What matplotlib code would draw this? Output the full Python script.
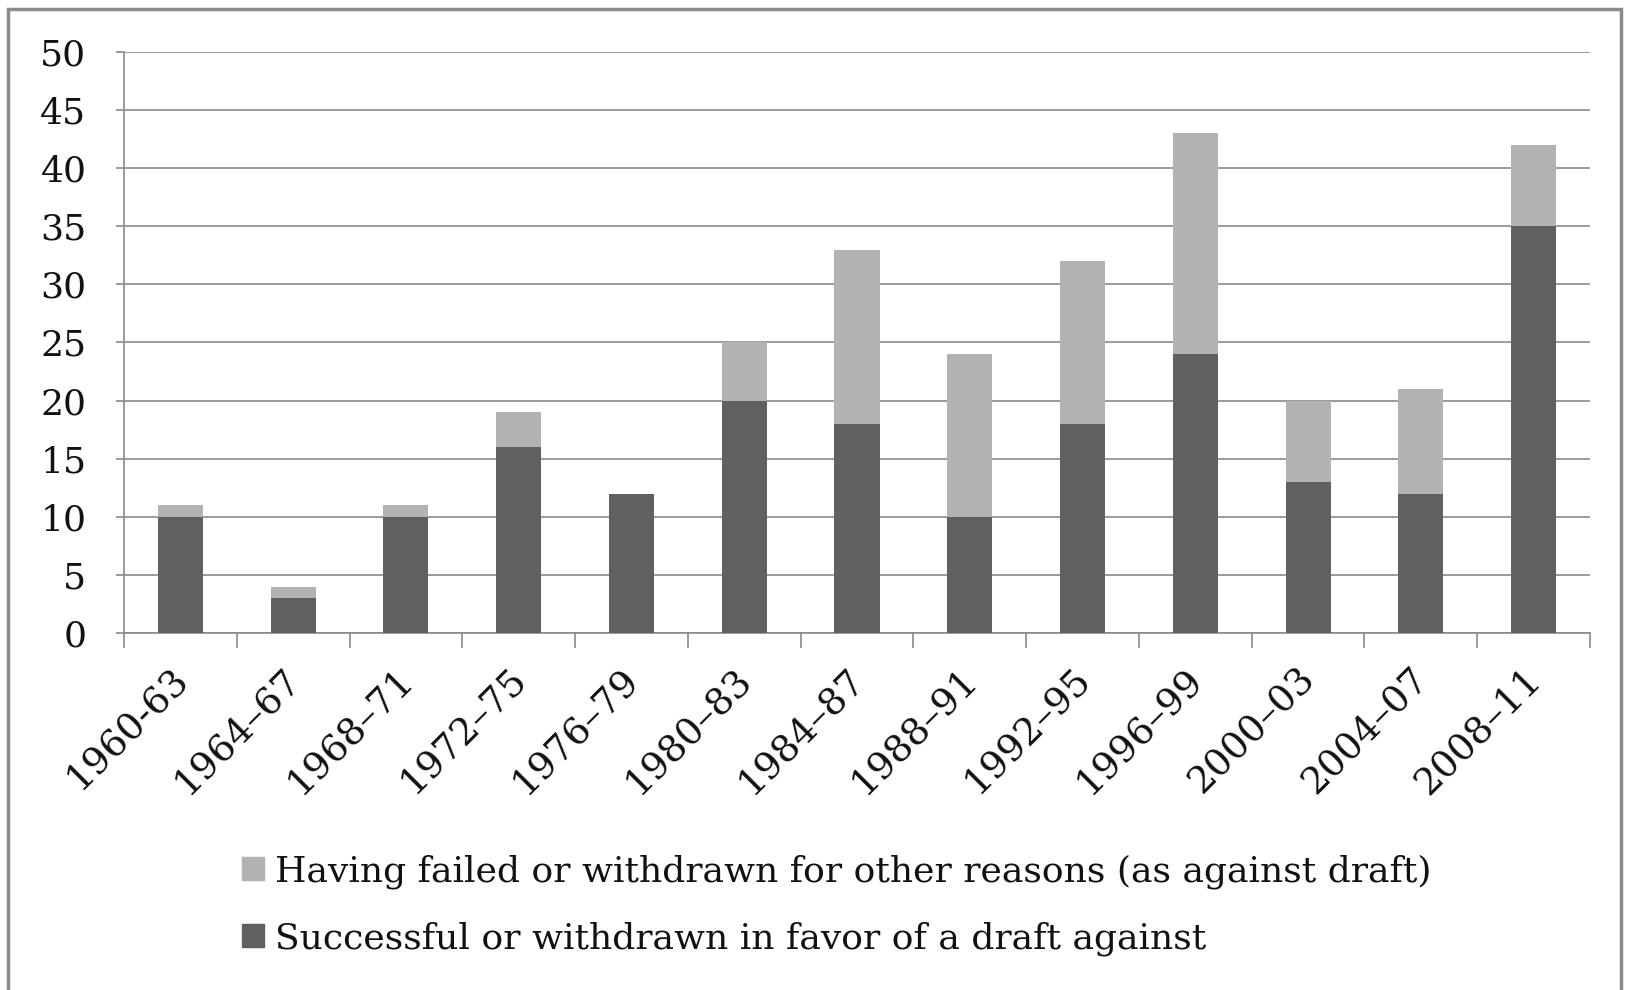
import matplotlib
matplotlib.use("Agg")
import matplotlib.pyplot as plt
import matplotlib.transforms as mtransforms
import numpy as np
from matplotlib.patches import Rectangle, Patch

periods = ["1960-63", "1964–67", "1968–71", "1972–75", "1976–79", "1980–83",
           "1984–87", "1988–91", "1992–95", "1996–99", "2000–03", "2004–07", "2008–11"]
successful = [10, 3, 10, 16, 12, 20, 18, 10, 18, 24, 13, 12, 35]
failed_other = [1, 1, 1, 3, 0, 5, 15, 14, 14, 19, 7, 9, 7]
yticks = [0, 5, 10, 15, 20, 25, 30, 35, 40, 45, 50]

label_failed = "Having failed or withdrawn for other reasons (as against draft)"
label_success = "Successful or withdrawn in favor of a draft against"

dark = "#606060"
light = "#b2b2b2"
gridc = "#8a8a8a"

plt.rcParams['font.family'] = ['DejaVu Serif']

fig = plt.figure(figsize=(16.38, 9.9), dpi=100)
ax = fig.add_axes([0.0757, 0.3606, 0.8950, 0.5869])

x = np.arange(len(periods))
ax.bar(x, successful, width=0.4, color=dark, zorder=3, label=label_success)
ax.bar(x, failed_other, width=0.4, bottom=successful, color=light, zorder=3, label=label_failed)

ax.set_xlim(-0.5, len(periods) - 0.5)
ax.set_ylim(0, 50)
ax.set_yticks(yticks)
ax.yaxis.grid(True, color=gridc, linewidth=1.2, zorder=0)
ax.tick_params(axis='y', length=6, width=1.2, color=gridc, labelsize=26, pad=21, labelcolor='#111111')

ax.set_xticks(np.arange(-0.5, len(periods), 1.0))
ax.set_xticklabels([])
ax.tick_params(axis='x', which='major', length=11, width=1.2, color=gridc)
ax.set_xticks(x, minor=True)
ax.set_xticklabels(periods, minor=True, rotation=45, ha='right', rotation_mode='anchor',
                   fontsize=27, color='#111111')
ax.tick_params(axis='x', which='minor', length=0, pad=8)
offset = mtransforms.ScaledTranslation(-8 / 72, -12 / 72, fig.dpi_scale_trans)
for lbl in ax.get_xticklabels(minor=True):
    lbl.set_transform(lbl.get_transform() + offset)

for s in ['top', 'right']:
    ax.spines[s].set_visible(False)
for s in ['left', 'bottom']:
    ax.spines[s].set_color(gridc)
    ax.spines[s].set_linewidth(1.2)

handles = [Patch(color=light), Patch(color=dark)]
fig.legend(handles, [label_failed, label_success], loc='upper left',
           bbox_to_anchor=(0.139, 0.152), frameon=False, fontsize=26,
           handlelength=0.6, handleheight=0.6, handletextpad=0.3, labelspacing=0.9,
           borderaxespad=0, labelcolor='#111111')

fig.patches.append(Rectangle((8 / 1638, -0.05), (1621 - 8) / 1638, 1.05 - 9 / 990,
                             transform=fig.transFigure, fill=False,
                             edgecolor='#8a8a8a', linewidth=2.5, zorder=10))

fig.savefig("out.png", dpi=100)
